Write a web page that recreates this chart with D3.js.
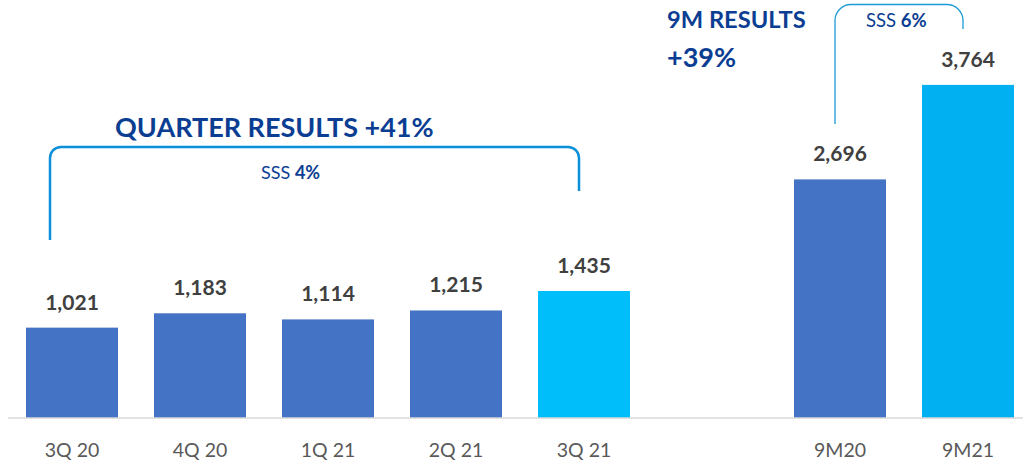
<!DOCTYPE html>
<html><head><meta charset="utf-8">
<script src="https://cdn.jsdelivr.net/npm/d3@7"></script>
<style>
html,body{margin:0;padding:0;background:#fff;}
svg{display:block;font-family:Lato,"Open Sans",sans-serif;}
</style></head>
<body><svg id="c" width="1025" height="464"></svg>
<script>
// Data
const categories = ["3Q 20","4Q 20","1Q 21","2Q 21","3Q 21","","9M20","9M21"];
const values     = [1021, 1183, 1114, 1215, 1435, null, 2696, 3764];
const barColors  = ["#4472C4","#4472C4","#4472C4","#4472C4","#00BEFA",null,"#4472C4","#00B0F0"];
const titles = {quarter:"QUARTER RESULTS +41%", nineA:"9M RESULTS", nineB:"+39%"};
const sss = [{label:"SSS ", val:"4%"},{label:"SSS ", val:"6%"}];

const svg = d3.select("#c");
const x = d3.scaleBand().domain(categories).range([8,1032]).paddingInner(0.28125).paddingOuter(0.140625);
const y = d3.scaleLinear().domain([0,4000]).range([418,64]);

const rows = categories.map((c,i)=>({c, v:values[i], col:barColors[i]})).filter(d=>d.v!=null);

svg.append("g").selectAll("rect").data(rows).join("rect")
  .attr("x",d=>x(d.c)).attr("width",x.bandwidth())
  .attr("y",d=>y(d.v)).attr("height",d=>y(0)-y(d.v))
  .attr("fill",d=>d.col);

// axis line
svg.append("line").attr("x1",8).attr("x2",1023).attr("y1",418).attr("y2",418)
  .attr("stroke","#D9D9D9").attr("stroke-width",1.5);

// category labels
svg.append("g").selectAll("text").data(rows).join("text")
  .attr("x",d=>x(d.c)+x.bandwidth()/2).attr("y",457)
  .attr("text-anchor","middle").attr("font-size",19.5).attr("fill","#595959")
  .text(d=>d.c);

// value labels
const fmt = d3.format(",");
svg.append("g").selectAll("text").data(rows).join("text")
  .attr("x",d=>x(d.c)+x.bandwidth()/2).attr("y",d=>y(d.v)-18)
  .attr("text-anchor","middle").attr("font-size",21).attr("font-weight","bold").attr("fill","#404040")
  .text(d=>fmt(d.v));

// brackets
function bracket(x0,yb0,yt,x1,yb1,r){
  const p=d3.path();
  p.moveTo(x0,yb0); p.lineTo(x0,yt+r); p.arcTo(x0,yt,x0+r,yt,r);
  p.lineTo(x1-r,yt); p.arcTo(x1,yt,x1,yt+r,r); p.lineTo(x1,yb1);
  return p.toString();
}
svg.append("path").attr("d",bracket(50,240,147,579,191,11)).attr("fill","none")
  .attr("stroke","#0A8FD8").attr("stroke-width",2.5);
svg.append("path").attr("d",bracket(835,124,4.5,963,29,16)).attr("fill","none")
  .attr("stroke","#1A9AD6").attr("stroke-width",1.3);

const blue="#0B3E92";
svg.append("text").attr("x",115).attr("y",137).attr("font-size",27).attr("font-weight","bold").attr("fill",blue).text(titles.quarter);
svg.append("text").attr("x",667).attr("y",28).attr("font-size",23.7).attr("font-weight","bold").attr("fill",blue).text(titles.nineA);
svg.append("text").attr("x",667).attr("y",67).attr("font-size",27).attr("font-weight","bold").attr("fill",blue).text(titles.nineB);

const s1 = svg.append("text").attr("x",261).attr("y",179).attr("font-size",18).attr("fill",blue);
s1.append("tspan").text(sss[0].label); s1.append("tspan").attr("font-weight","bold").text(sss[0].val);
const s2 = svg.append("text").attr("x",866).attr("y",27).attr("font-size",18.5).attr("fill",blue);
s2.append("tspan").text(sss[1].label); s2.append("tspan").attr("font-weight","bold").text(sss[1].val);
</script></body></html>
